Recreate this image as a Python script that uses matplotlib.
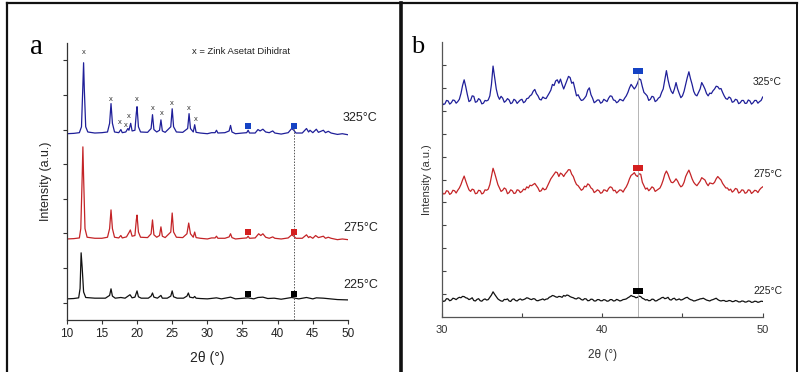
import numpy as np
import matplotlib
matplotlib.use("Agg")
import matplotlib.pyplot as plt
from matplotlib.lines import Line2D

plt.rcParams["font.family"] = ["Liberation Sans Narrow", "Liberation Sans", "DejaVu Sans"]

# -------------------- data --------------------
temps = ["325°C", "275°C", "225°C"]
line_colors = ["#1f1f99", "#c42427", "#111111"]
mark_colors = ["#1543c4", "#d41f1f", "#000000"]

# panel a: traced vertices, intensity above each pattern's baseline
a_x_325 = [10.0, 11.0, 11.8, 12.1, 12.3, 12.4, 12.5, 12.7, 13.0, 14.0, 15.0, 15.8, 16.1, 16.3, 16.5, 16.8,
           17.4, 17.7, 17.9, 18.4, 18.7, 18.85, 19.1, 19.3, 19.7, 19.9, 20.0, 20.2, 20.5, 21.5, 22.0, 22.2,
           22.4, 22.8, 23.2, 23.4, 23.6, 24.0, 24.8, 25.0, 25.2, 25.6, 26.5, 27.2, 27.4, 27.6, 28.0, 28.2,
           28.4, 29.0, 30.0, 30.6, 31.1, 31.3, 31.5, 32.5, 33.1, 33.3, 33.5, 34.0, 35.0, 35.6, 35.8, 36.0,
           36.8, 37.2, 37.5, 37.9, 38.3, 38.8, 39.3, 39.6, 40.5, 41.5, 42.0, 42.3, 42.6, 43.5, 44.1, 44.4,
           44.6, 45.0, 45.5, 45.8, 46.5, 46.8, 47.2, 47.6, 48.5, 49.2, 50.0]
a_y_325 = [0.0, 0.01, 0.03, 0.2, 1.4, 2.05, 1.3, 0.2, 0.05, 0.02, 0.03, 0.05, 0.3, 0.87, 0.3, 0.05,
           0.03, 0.12, 0.03, 0.05, 0.15, 0.1, 0.3, 0.08, 0.1, 0.6, 0.78, 0.2, 0.05, 0.04, 0.15, 0.55,
           0.12, 0.05, 0.1, 0.4, 0.08, 0.04, 0.2, 0.72, 0.2, 0.05, 0.04, 0.15, 0.58, 0.15, 0.05, 0.26,
           0.04, 0.02, 0.0, 0.03, 0.03, 0.1, 0.02, 0.03, 0.08, 0.24, 0.05, 0.0, 0.02, 0.03, 0.1, 0.02,
           0.02, 0.12, 0.08, 0.13, 0.05, 0.03, 0.08, 0.02, -0.01, 0.03, 0.15, 0.1, 0.02, 0.02, 0.15, 0.05,
           0.1, 0.03, 0.13, 0.04, 0.1, 0.03, 0.07, 0.02, -0.02, 0.0, -0.03]

a_x_275 = [10.0, 11.0, 11.8, 12.0, 12.2, 12.3, 12.4, 12.6, 12.9, 14.0, 15.0, 15.8, 16.1, 16.3, 16.5, 16.8,
           17.4, 17.7, 17.9, 18.5, 18.9, 19.05, 19.3, 19.7, 19.9, 20.0, 20.2, 20.5, 21.5, 22.0, 22.2, 22.4,
           22.8, 23.2, 23.4, 23.6, 24.0, 24.8, 25.0, 25.2, 25.6, 26.5, 27.1, 27.35, 27.6, 28.0, 28.2, 28.4,
           29.0, 30.0, 30.6, 31.1, 31.3, 31.5, 32.5, 33.1, 33.3, 33.5, 34.0, 35.0, 35.6, 35.8, 36.0, 36.8,
           37.3, 37.6, 37.9, 38.3, 38.8, 39.3, 39.6, 40.5, 41.5, 42.0, 42.3, 42.6, 43.5, 44.1, 44.4, 44.6,
           45.0, 45.4, 45.8, 46.5, 46.8, 47.2, 47.6, 48.5, 49.2, 50.0]
a_y_275 = [0.0, 0.01, 0.03, 0.3, 1.8, 2.66, 1.8, 0.3, 0.05, 0.02, 0.02, 0.05, 0.3, 0.84, 0.3, 0.05,
           0.03, 0.1, 0.03, 0.06, 0.2, 0.26, 0.08, 0.1, 0.55, 0.69, 0.2, 0.05, 0.04, 0.15, 0.55, 0.12,
           0.05, 0.1, 0.35, 0.08, 0.04, 0.2, 0.75, 0.2, 0.05, 0.04, 0.15, 0.46, 0.15, 0.05, 0.2, 0.04,
           0.02, 0.0, 0.03, 0.03, 0.08, 0.02, 0.02, 0.06, 0.15, 0.04, 0.0, 0.02, 0.03, 0.08, 0.02, 0.03,
           0.15, 0.1, 0.15, 0.05, 0.02, 0.06, 0.02, 0.0, 0.03, 0.12, 0.08, 0.02, 0.02, 0.12, 0.04, 0.07,
           0.02, 0.1, 0.04, 0.08, 0.02, 0.05, 0.02, -0.02, 0.0, -0.02]

a_x_225 = [10.0, 11.0, 11.7, 11.9, 12.05, 12.2, 12.4, 12.7, 14.0, 15.5, 16.1, 16.3, 16.5, 16.9, 17.7, 18.3,
           19.0, 19.3, 19.7, 20.0, 20.2, 20.6, 21.6, 22.0, 22.2, 22.4, 22.9, 23.4, 23.6, 24.3, 24.8, 25.0,
           25.2, 25.7, 26.6, 27.1, 27.3, 27.5, 28.0, 28.2, 28.4, 29.0, 30.0, 31.3, 32.0, 33.3, 34.0, 35.8,
           36.6, 37.2, 37.9, 38.6, 39.5, 40.5, 42.0, 43.0, 44.1, 45.0, 45.5, 46.5, 47.5, 48.5, 50.0]
a_y_225 = [0.0, 0.01, 0.03, 0.3, 1.33, 0.9, 0.2, 0.04, 0.02, 0.02, 0.1, 0.29, 0.08, 0.02, 0.04, 0.02,
           0.12, 0.03, 0.05, 0.23, 0.06, 0.02, 0.02, 0.08, 0.17, 0.05, 0.02, 0.1, 0.02, 0.02, 0.08, 0.23,
           0.06, 0.02, 0.02, 0.08, 0.17, 0.05, 0.03, 0.07, 0.02, 0.01, 0.0, 0.03, 0.0, 0.05, 0.0, 0.03,
           0.0, 0.04, 0.05, 0.01, 0.02, -0.01, 0.04, 0.0, 0.04, 0.0, 0.03, 0.02, 0.0, -0.02, -0.03]

a_base = [5.38, 2.34, 0.61]
a_square_x = [35.8, 42.3]
a_square_y = [5.61, 2.54, 0.75]
a_label_y = [5.84, 2.66, 1.01]

# "x" marks on the zinc acetate dihydrate peaks (325 °C pattern)
za_x = [12.4, 16.3, 17.6, 18.4, 18.9, 20.0, 22.2, 23.5, 25.0, 27.4, 28.3]
za_y = [7.72, 6.36, 5.69, 5.61, 5.87, 6.36, 6.10, 5.95, 6.24, 6.10, 5.78]

# panel b: 2theta sampled every 0.1 deg from 30 to 50 (one row per degree)
b_x = [round(30 + 0.1 * i, 1) for i in range(201)]
b_y_325 = [0.05, -0.08, -0.05, 0.1, 0.08, -0.06, 0.0, 0.12, 0.1, -0.02,
           0.05, 0.15, 0.4, 0.75, 1.0, 0.7, 0.35, 0.05, 0.1, 0.3,
           0.28, 0.02, 0.05, 0.18, 0.12, -0.05, -0.02, 0.1, 0.08, 0.12,
           0.3, 0.8, 1.6, 1.1, 0.6, 0.3, 0.15, 0.28, 0.2, 0.02,
           0.08, 0.18, 0.12, -0.04, 0.0, 0.15, 0.1, -0.03, 0.05, 0.12,
           0.15, 0.0, 0.05, 0.18, 0.2, 0.3, 0.35, 0.5, 0.58, 0.4,
           0.3, 0.15, 0.12, 0.25, 0.2, 0.18, 0.3, 0.42, 0.55, 0.8,
           0.75, 0.95, 1.0, 0.85, 1.03, 0.8, 0.6, 0.78, 0.95, 1.15,
           1.1, 0.85, 0.9, 0.6, 0.3, 0.35, 0.2, 0.1, 0.12, 0.2,
           0.3, 0.55, 0.65, 0.35, 0.2, 0.0, 0.05, 0.12, 0.12, -0.02,
           0.02, 0.15, 0.1, 0.05, 0.2, 0.3, 0.28, 0.12, 0.1, 0.0,
           0.05, 0.15, 0.12, 0.08, 0.2, 0.3, 0.45, 0.65, 0.8, 0.7,
           0.6, 0.7, 0.85, 1.05, 1.0, 0.7, 0.45, 0.38, 0.3, 0.1,
           0.15, 0.28, 0.25, 0.05, 0.1, 0.2, 0.25, 0.45, 0.6, 1.0,
           1.4, 1.0, 0.7, 0.5, 0.4, 0.6, 0.88, 0.6, 0.4, 0.22,
           0.3, 0.5, 0.8, 1.1, 1.35, 1.05, 0.8, 0.5, 0.35, 0.3,
           0.45, 0.6, 0.88, 0.75, 0.6, 0.4, 0.3, 0.42, 0.4, 0.52,
           0.6, 0.72, 0.7, 0.6, 0.62, 0.45, 0.3, 0.18, 0.15, 0.25,
           0.2, 0.02, 0.05, 0.15, 0.12, -0.04, 0.0, 0.1, 0.1, -0.03,
           -0.02, 0.12, 0.08, -0.06, 0.0, 0.1, 0.1, -0.02, 0.05, 0.1,
           0.25]
b_y_275 = [0.05, -0.06, -0.05, 0.08, 0.06, -0.08, -0.03, 0.1, 0.08, -0.02,
           0.1, 0.2, 0.35, 0.55, 0.72, 0.5, 0.3, 0.12, 0.05, 0.15,
           0.12, -0.05, -0.03, 0.1, 0.08, -0.06, -0.02, 0.12, 0.1, 0.15,
           0.35, 0.7, 1.06, 0.85, 0.6, 0.35, 0.2, 0.05, 0.1, 0.2,
           0.15, -0.05, 0.0, 0.12, 0.08, -0.04, -0.02, 0.12, 0.1, 0.0,
           0.05, 0.15, 0.12, 0.25, 0.2, 0.32, 0.3, 0.35, 0.4, 0.3,
           0.2, 0.05, 0.08, 0.2, 0.12, 0.15, 0.3, 0.45, 0.6, 0.7,
           0.8, 0.9, 0.87, 0.7, 0.85, 0.8, 0.7, 0.82, 0.9, 1.0,
           0.99, 0.8, 0.7, 0.5, 0.35, 0.3, 0.2, 0.1, 0.15, 0.28,
           0.25, 0.38, 0.33, 0.2, 0.15, 0.0, 0.05, 0.12, 0.08, -0.03,
           0.0, 0.12, 0.1, 0.05, 0.18, 0.25, 0.22, 0.08, 0.1, -0.02,
           0.05, 0.12, 0.1, 0.02, 0.15, 0.25, 0.4, 0.6, 0.75, 0.8,
           0.87, 0.75, 0.7, 0.82, 0.8, 0.45, 0.3, 0.15, 0.2, 0.08,
           0.15, 0.25, 0.2, 0.05, 0.1, 0.15, 0.2, 0.35, 0.55, 0.8,
           0.94, 0.8, 0.6, 0.45, 0.43, 0.5, 0.6, 0.5, 0.35, 0.25,
           0.3, 0.45, 0.7, 0.85, 0.98, 0.8, 0.6, 0.45, 0.36, 0.3,
           0.4, 0.5, 0.65, 0.6, 0.55, 0.4, 0.3, 0.42, 0.4, 0.38,
           0.45, 0.6, 0.7, 0.62, 0.55, 0.4, 0.3, 0.2, 0.2, 0.1,
           0.15, 0.02, 0.08, 0.18, 0.15, -0.02, 0.02, 0.12, 0.1, -0.03,
           0.0, 0.12, 0.1, -0.04, 0.02, 0.1, 0.08, 0.0, 0.12, 0.2,
           0.25]
b_y_225 = [0.02, -0.06, -0.04, 0.06, 0.05, -0.03, 0.0, 0.08, 0.06, 0.02,
           0.08, 0.12, 0.1, 0.16, 0.15, 0.1, 0.08, 0.02, 0.05, 0.1,
           -0.02, -0.04, 0.03, 0.06, -0.03, -0.05, 0.02, 0.05, 0.0, 0.02,
           0.12, 0.22, 0.36, 0.25, 0.15, 0.05, 0.0, -0.04, -0.05, 0.03,
           0.02, 0.05, -0.04, -0.06, 0.03, 0.05, -0.02, -0.04, 0.02, 0.05,
           0.0, 0.02, 0.05, 0.1, 0.08, 0.04, 0.02, 0.06, 0.05, -0.02,
           -0.03, 0.0, 0.02, 0.05, 0.0, 0.04, 0.05, 0.12, 0.15, 0.2,
           0.18, 0.14, 0.12, 0.16, 0.15, 0.12, 0.2, 0.17, 0.22, 0.2,
           0.15, 0.12, 0.1, 0.06, 0.05, 0.1, 0.08, 0.02, 0.0, 0.06,
           0.05, -0.03, -0.02, 0.04, 0.03, -0.04, -0.04, 0.02, 0.02, -0.03,
           -0.03, 0.02, 0.0, -0.05, -0.04, 0.02, 0.02, -0.04, -0.03, 0.03,
           0.0, -0.04, -0.02, 0.02, 0.03, 0.05, 0.1, 0.14, 0.2, 0.16,
           0.15, 0.1, 0.12, 0.17, 0.15, 0.08, 0.05, 0.0, 0.02, -0.03,
           -0.02, 0.04, 0.03, -0.04, -0.03, 0.02, 0.05, 0.1, 0.12, 0.06,
           0.08, 0.12, 0.02, 0.0, 0.06, 0.08, 0.0, 0.02, 0.05, 0.0,
           0.02, 0.06, 0.1, 0.12, 0.06, 0.02, 0.0, -0.04, -0.03, 0.0,
           0.02, 0.05, 0.06, 0.08, 0.04, 0.0, -0.02, -0.04, 0.0, 0.02,
           0.05, 0.08, 0.02, -0.02, -0.04, -0.02, -0.02, -0.06, -0.05, -0.02,
           -0.03, -0.07, -0.06, -0.02, -0.04, -0.08, -0.08, -0.04, -0.05, -0.09,
           -0.08, -0.04, -0.05, -0.1, -0.09, -0.05, -0.06, -0.1, -0.08, -0.05,
           -0.06]

b_base = [9.35, 5.43, 0.74]
b_rect_x = 42.26
b_rect_y = [10.74, 6.52, 1.13]
b_label_y = [10.26, 6.26, 1.13]

# -------------------- figure --------------------
fig = plt.figure(figsize=(7.99, 3.72), dpi=100)

# panel frames
frame_kw = dict(color="#111111", transform=fig.transFigure, clip_on=False)
fig.add_artist(Line2D([0.0085, 0.0085], [-0.01, 0.991], lw=1.6, **frame_kw))
fig.add_artist(Line2D([0.0085, 0.501], [0.991, 0.991], lw=1.6, **frame_kw))
fig.add_artist(Line2D([0.502, 0.502], [-0.01, 0.991], lw=2.6, **frame_kw))
fig.add_artist(Line2D([0.502, 0.997], [0.991, 0.991], lw=1.6, **frame_kw))
fig.add_artist(Line2D([0.997, 0.997], [-0.01, 0.991], lw=1.4, **frame_kw))

# ---- panel a ----
ax = fig.add_axes([0.0835, 0.1398, 0.352, 0.7446])
a_curves = [(a_x_325, a_y_325), (a_x_275, a_y_275), (a_x_225, a_y_225)]
for (xs, ys), base, col in zip(a_curves, a_base, line_colors):
    ax.plot(xs, np.asarray(ys) + base, color=col, lw=0.9)

ax.plot([42.3, 42.3], [0, 5.55], color="#555555", lw=0.7, ls=(0, (1.5, 1.5)))
for sy, mc in zip(a_square_y, mark_colors):
    ax.plot(a_square_x, [sy, sy], ls="none", marker="s", ms=4.4, mew=0, color=mc)
for lab, ly in zip(temps, a_label_y):
    ax.text(49.3, ly, lab, fontsize=9, color="#222222", ha="left", va="center", clip_on=False)
for zx, zy in zip(za_x, za_y):
    ax.text(zx, zy, "x", fontsize=5.5, color="#333333", ha="center", va="center")
ax.text(27.8, 7.75, "x = Zink Asetat Dihidrat", fontsize=6.8, color="#222222", ha="left", va="center")

ax.set_xlim(10, 50)
ax.set_ylim(0, 8)
ax.set_xticks(range(10, 51, 5))
ax.set_yticks(np.arange(0.5, 8, 1.0))
ax.tick_params(axis="both", direction="out", length=3, width=0.8, color="#333333",
               labelsize=8.5, labelcolor="#222222", pad=3)
ax.tick_params(axis="y", labelleft=False)
for s in ["top", "right"]:
    ax.spines[s].set_visible(False)
for s in ["left", "bottom"]:
    ax.spines[s].set_color("#333333")
    ax.spines[s].set_linewidth(0.9)
ax.set_xlabel("2θ (°)", fontsize=10, color="#222222", labelpad=8)
ax.set_ylabel("Intensity (a.u.)", fontsize=9, color="#222222", labelpad=7.5)
fig.text(0.038, 0.873, "a", family="Liberation Serif", fontsize=21, ha="left", va="center")

# ---- panel b ----
bx = fig.add_axes([0.5528, 0.1478, 0.4018, 0.7393])
for ys, base, col in zip([b_y_325, b_y_275, b_y_225], b_base, line_colors):
    bx.plot(b_x, np.asarray(ys) + base, color=col, lw=0.9)

bx.plot([b_rect_x, b_rect_x], [0, 10.6], color="#aaaaaa", lw=0.6)
rect = [(-1.6, -1), (1.6, -1), (1.6, 1), (-1.6, 1), (-1.6, -1)]
for ry, mc in zip(b_rect_y, mark_colors):
    bx.plot([b_rect_x], [ry], ls="none", marker=rect, ms=7.5, mew=0, color=mc)
for lab, ly in zip(temps, b_label_y):
    bx.text(49.4, ly, lab, fontsize=7.5, color="#222222", ha="left", va="center", clip_on=False)

bx.set_xlim(30, 50)
bx.set_ylim(0, 12)
bx.set_xticks([30, 40, 50])
bx.set_xticks([35, 45], minor=True)
bx.set_yticks(range(1, 12))
bx.tick_params(axis="both", which="both", direction="in", length=3, width=0.8, color="#444444",
               labelsize=8, labelcolor="#333333", pad=6)
bx.tick_params(axis="y", labelleft=False)
for s in ["top", "right"]:
    bx.spines[s].set_visible(False)
for s in ["left", "bottom"]:
    bx.spines[s].set_color("#555555")
    bx.spines[s].set_linewidth(0.9)
bx.set_xlabel("2θ (°)", fontsize=8.5, color="#333333", labelpad=10)
bx.set_ylabel("Intensity (a.u.)", fontsize=8, color="#333333", labelpad=7)
fig.text(0.515, 0.873, "b", family="Liberation Serif", fontsize=19, ha="left", va="center")

fig.savefig("out.png", dpi=100)
